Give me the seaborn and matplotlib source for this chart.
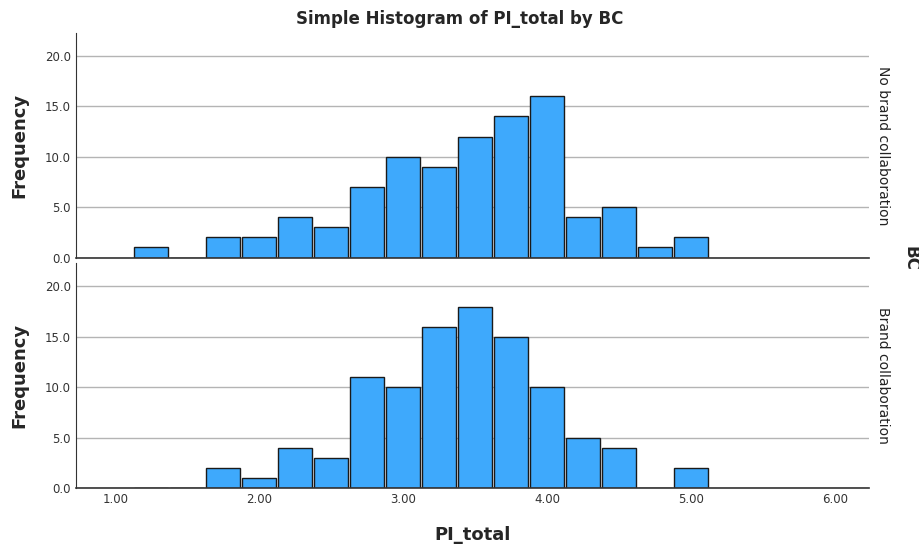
import pandas as pd
import matplotlib
matplotlib.use("Agg")
import matplotlib.pyplot as plt
import seaborn as sns

# bin centres (PI_total) and counts
centres = [1.25, 1.5, 1.75, 2.0, 2.25, 2.5, 2.75, 3.0, 3.25, 3.5, 3.75, 4.0, 4.25, 4.5, 4.75, 5.0]
no_brand = [1, 0, 2, 2, 4, 3, 7, 10, 9, 12, 14, 16, 4, 5, 1, 2]
brand = [0, 0, 2, 1, 4, 3, 11, 10, 16, 18, 15, 10, 5, 4, 0, 2]
groups = ["No brand collaboration", "Brand collaboration"]
x_ticks = [1.0, 2.0, 3.0, 4.0, 5.0, 6.0]
y_ticks = [0, 5, 10, 15, 20]

df = pd.DataFrame({
    "PI_total": centres * 2,
    "count": no_brand + brand,
    "BC": [groups[0]] * len(centres) + [groups[1]] * len(centres),
})

sns.set_style("white")
plt.rcParams["font.family"] = ["DejaVu Sans"]

bar_col = "#3ea9fc"

g = sns.FacetGrid(df, row="BC", row_order=groups, margin_titles=True,
                  sharex=True, sharey=True, despine=False)
g.figure.set_size_inches(9.2, 5.47)
g.map_dataframe(sns.histplot, x="PI_total", weights="count",
                binwidth=0.25, binrange=(1.125, 5.125),
                color=bar_col, edgecolor="#1a1a1a", linewidth=1.0,
                alpha=1, shrink=0.94)
g.set_titles(row_template="{row_name}", size=10)

for ax in g.axes.flat:
    ax.set_xlim(0.73, 6.24)
    ax.set_ylim(0, 22.3)
    ax.set_yticks(y_ticks)
    ax.set_yticklabels([f"{v:.1f}" for v in y_ticks], fontsize=8.5, color="#333333")
    ax.yaxis.grid(True, color="#b4b4b4", linewidth=1)
    ax.set_axisbelow(True)
    for s in ["top", "right"]:
        ax.spines[s].set_visible(False)
    ax.spines["left"].set_color("#333333")
    ax.spines["bottom"].set_color("#333333")
    ax.spines["bottom"].set_linewidth(1.2)
    ax.tick_params(length=0, pad=4)
    ax.set_ylabel("Frequency", fontsize=13, fontweight="bold", labelpad=12)
    ax.set_xlabel("")

g.axes[0, 0].tick_params(labelbottom=False)
bot = g.axes[-1, 0]
bot.set_xticks(x_ticks)
bot.set_xticklabels([f"{v:.2f}" for v in x_ticks], fontsize=8.5, color="#333333")
bot.set_xlabel("PI_total", fontsize=13, fontweight="bold", labelpad=14)

for t in g._margin_titles_texts:
    t.set_fontsize(10)
    t.set_color("#222222")
    t.xyann = (1.008, 0.5)

g.figure.subplots_adjust(left=0.083, right=0.945, top=0.94, bottom=0.108, hspace=0.025)
g.figure.suptitle("Simple Histogram of PI_total by BC", fontsize=12, fontweight="bold", y=0.982)
g.figure.text(0.99, 0.528, "BC", rotation=270, fontsize=12, fontweight="bold",
              ha="center", va="center")

g.figure.savefig("out.png", dpi=100)
